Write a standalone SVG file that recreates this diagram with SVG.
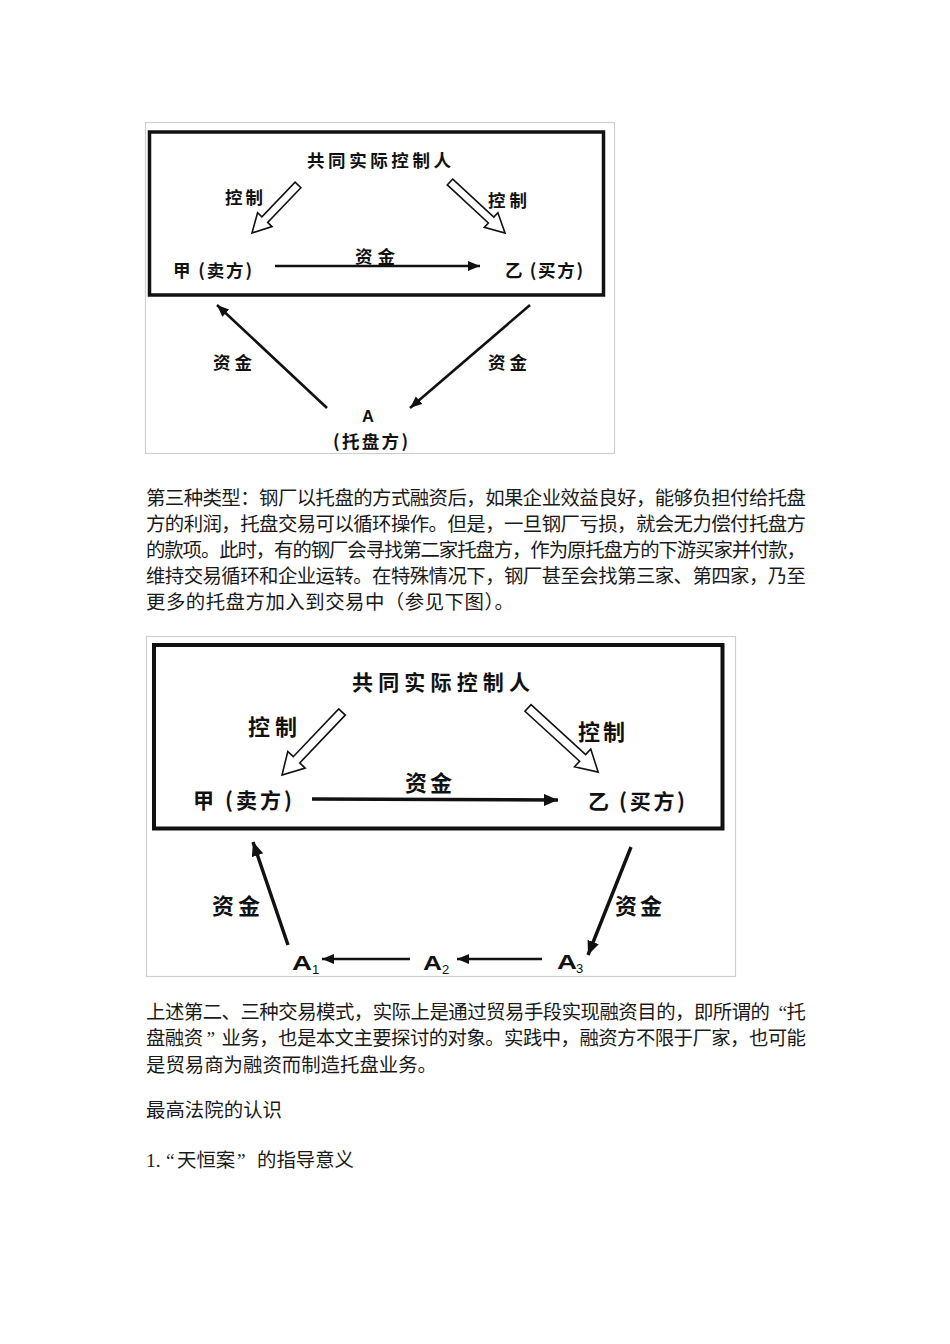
<svg xmlns="http://www.w3.org/2000/svg" width="950" height="1344" viewBox="0 0 950 1344">
<style>
.frame{fill:none;stroke:#cfcfcf;stroke-width:1.2}
.box1{fill:none;stroke:#111;stroke-width:3.5}
.box2{fill:none;stroke:#111;stroke-width:4}
.lbl{font-family:"Noto Sans CJK SC","Noto Sans",sans-serif;font-weight:700;fill:#111}
.lat{font-family:"Liberation Sans",Arial,sans-serif;font-weight:700;fill:#111}
.sub{font-family:"Liberation Sans",Arial,sans-serif;font-weight:400;fill:#111;font-size:13px}
.body{font-family:"Liberation Serif","Noto Sans CJK SC",serif;font-size:19.4px;fill:#1a1a1a}
.ln1{fill:none;stroke:#111;stroke-width:2.6}
.ln2{fill:none;stroke:#111;stroke-width:3.4}
.hol{fill:#fff;stroke:#111;stroke-width:1.6;stroke-linejoin:miter}
</style>
<defs>
<marker id="ah1" markerUnits="userSpaceOnUse" markerWidth="14" markerHeight="12" refX="12" refY="5" orient="auto">
<path d="M0,0 L12,5 L0,10 z" fill="#111"/>
</marker>
<marker id="ah2" markerUnits="userSpaceOnUse" markerWidth="16" markerHeight="14" refX="14" refY="6" orient="auto">
<path d="M0,0 L14,6 L0,12 z" fill="#111"/>
</marker>
</defs>
<rect width="950" height="1344" fill="#fff"/>

<!-- Diagram 1 -->
<g id="diagram1">
<rect class="frame" x="145.5" y="122.5" width="469" height="331"/>
<rect class="box1" x="149.5" y="132" width="454" height="163"/>
<g id="d1-controller"><text class="lbl" x="307" y="167" font-size="17.5" textLength="144" lengthAdjust="spacing">共同实际控制人</text></g>
<g id="d1-jia"><text class="lbl" x="173" y="277" font-size="17.5" textLength="79" lengthAdjust="spacing">甲 (卖方)</text></g>
<g id="d1-yi"><text class="lbl" x="505" y="277" font-size="17.5" textLength="78" lengthAdjust="spacing">乙 (买方)</text></g>
<g id="d1-A"><text class="lat" x="368" y="422" font-size="16.5" text-anchor="middle">A</text>
<text class="lbl" x="333" y="448" font-size="17.5" textLength="75" lengthAdjust="spacing">(托盘方)</text></g>
<g id="d1-connectors">
<g transform="translate(298,185) rotate(133.8)"><polygon class="hol" points="0,-4 48,-4 48,-10 66.5,0 48,10 48,4 0,4"/></g>
<g transform="translate(450,182) rotate(42.8)"><polygon class="hol" points="0,-4 56,-4 56,-10 75,0 56,10 56,4 0,4"/></g>
<line class="ln1" x1="275" y1="266" x2="480" y2="266" marker-end="url(#ah1)"/>
<line class="ln1" x1="327" y1="408" x2="217" y2="305" marker-end="url(#ah1)"/>
<line class="ln1" x1="530" y1="305" x2="410" y2="408" marker-end="url(#ah1)"/>
<text class="lbl" x="225" y="204" font-size="17.5" textLength="38" lengthAdjust="spacing">控制</text>
<text class="lbl" x="488" y="207" font-size="17.5" textLength="39" lengthAdjust="spacing">控制</text>
<text class="lbl" x="355" y="263" font-size="17.5" textLength="40" lengthAdjust="spacing">资金</text>
<text class="lbl" x="213" y="369" font-size="17.5" textLength="39" lengthAdjust="spacing">资金</text>
<text class="lbl" x="488" y="369" font-size="17.5" textLength="39" lengthAdjust="spacing">资金</text>
</g>
</g>

<!-- Paragraph 1 -->
<g id="para1" class="body">
<text x="146" y="505" textLength="660" lengthAdjust="spacing">第三种类型：钢厂以托盘的方式融资后，如果企业效益良好，能够负担付给托盘</text>
<text x="146" y="531" textLength="660" lengthAdjust="spacing">方的利润，托盘交易可以循环操作。但是，一旦钢厂亏损，就会无力偿付托盘方</text>
<text x="146" y="557" textLength="660" lengthAdjust="spacing">的款项。此时，有的钢厂会寻找第二家托盘方，作为原托盘方的下游买家并付款，</text>
<text x="146" y="583" textLength="660" lengthAdjust="spacing">维持交易循环和企业运转。在特殊情况下，钢厂甚至会找第三家、第四家，乃至</text>
<text x="146" y="609" textLength="368" lengthAdjust="spacing">更多的托盘方加入到交易中（参见下图）。</text>
</g>

<!-- Diagram 2 -->
<g id="diagram2">
<rect class="frame" x="146.5" y="636.5" width="589" height="340"/>
<rect class="box2" x="154" y="645" width="568.5" height="183.5"/>
<g id="d2-controller"><text class="lbl" x="352" y="690" font-size="21" textLength="178" lengthAdjust="spacing">共同实际控制人</text></g>
<g id="d2-jia"><text class="lbl" x="193" y="808" font-size="21" textLength="99" lengthAdjust="spacing">甲 (卖方)</text></g>
<g id="d2-yi"><text class="lbl" x="588" y="809" font-size="21" textLength="97" lengthAdjust="spacing">乙 (买方)</text></g>
<g id="d2-A1"><text class="lat" x="292" y="970" font-size="21" textLength="20" lengthAdjust="spacingAndGlyphs">A</text><text class="sub" x="312" y="974">1</text></g>
<g id="d2-A2"><text class="lat" x="423" y="970" font-size="21" textLength="19" lengthAdjust="spacingAndGlyphs">A</text><text class="sub" x="442" y="974">2</text></g>
<g id="d2-A3"><text class="lat" x="557" y="969" font-size="21" textLength="20" lengthAdjust="spacingAndGlyphs">A</text><text class="sub" x="576" y="973">3</text></g>
<g id="d2-connectors">
<g transform="translate(342,712) rotate(133.6)"><polygon class="hol" points="0,-4.5 66,-4.5 66,-12 87,0 66,12 66,4.5 0,4.5"/></g>
<g transform="translate(528,708) rotate(42.4)"><polygon class="hol" points="0,-4.5 74,-4.5 74,-12 95,0 74,12 74,4.5 0,4.5"/></g>
<line class="ln2" x1="312" y1="799" x2="558" y2="800" marker-end="url(#ah2)"/>
<line class="ln2" x1="288" y1="945" x2="253" y2="842" marker-end="url(#ah2)"/>
<line class="ln2" x1="631" y1="847" x2="588" y2="955" marker-end="url(#ah2)"/>
<line class="ln1" x1="410" y1="959" x2="322" y2="959" marker-end="url(#ah1)"/>
<line class="ln1" x1="542" y1="959" x2="457" y2="959" marker-end="url(#ah1)"/>
<text class="lbl" x="248" y="735" font-size="22" textLength="49" lengthAdjust="spacing">控制</text>
<text class="lbl" x="578" y="740" font-size="22" textLength="47" lengthAdjust="spacing">控制</text>
<text class="lbl" x="405" y="791" font-size="22" textLength="47" lengthAdjust="spacing">资金</text>
<text class="lbl" x="212" y="914" font-size="22" textLength="48" lengthAdjust="spacing">资金</text>
<text class="lbl" x="615" y="914" font-size="22" textLength="47" lengthAdjust="spacing">资金</text>
</g>
</g>

<!-- Paragraph 2 -->
<g id="para2" class="body">
<text x="146" y="1019" textLength="660" lengthAdjust="spacing">上述第二、三种交易模式，实际上是通过贸易手段实现融资目的，即所谓的<tspan dx="9">“</tspan>托</text>
<text x="146" y="1045" textLength="660" lengthAdjust="spacing">盘融资<tspan dx="4">”</tspan><tspan dx="7">业</tspan>务，也是本文主要探讨的对象。实践中，融资方不限于厂家，也可能</text>
<text x="146" y="1072" textLength="291" lengthAdjust="spacing">是贸易商为融资而制造托盘业务。</text>
<text x="146" y="1117" textLength="136" lengthAdjust="spacing">最高法院的认识</text>
<text x="146" y="1167">1.<tspan x="166">“</tspan><tspan x="177">天恒案</tspan><tspan x="237">”</tspan><tspan x="257">的指导意义</tspan></text>
</g>
</svg>
